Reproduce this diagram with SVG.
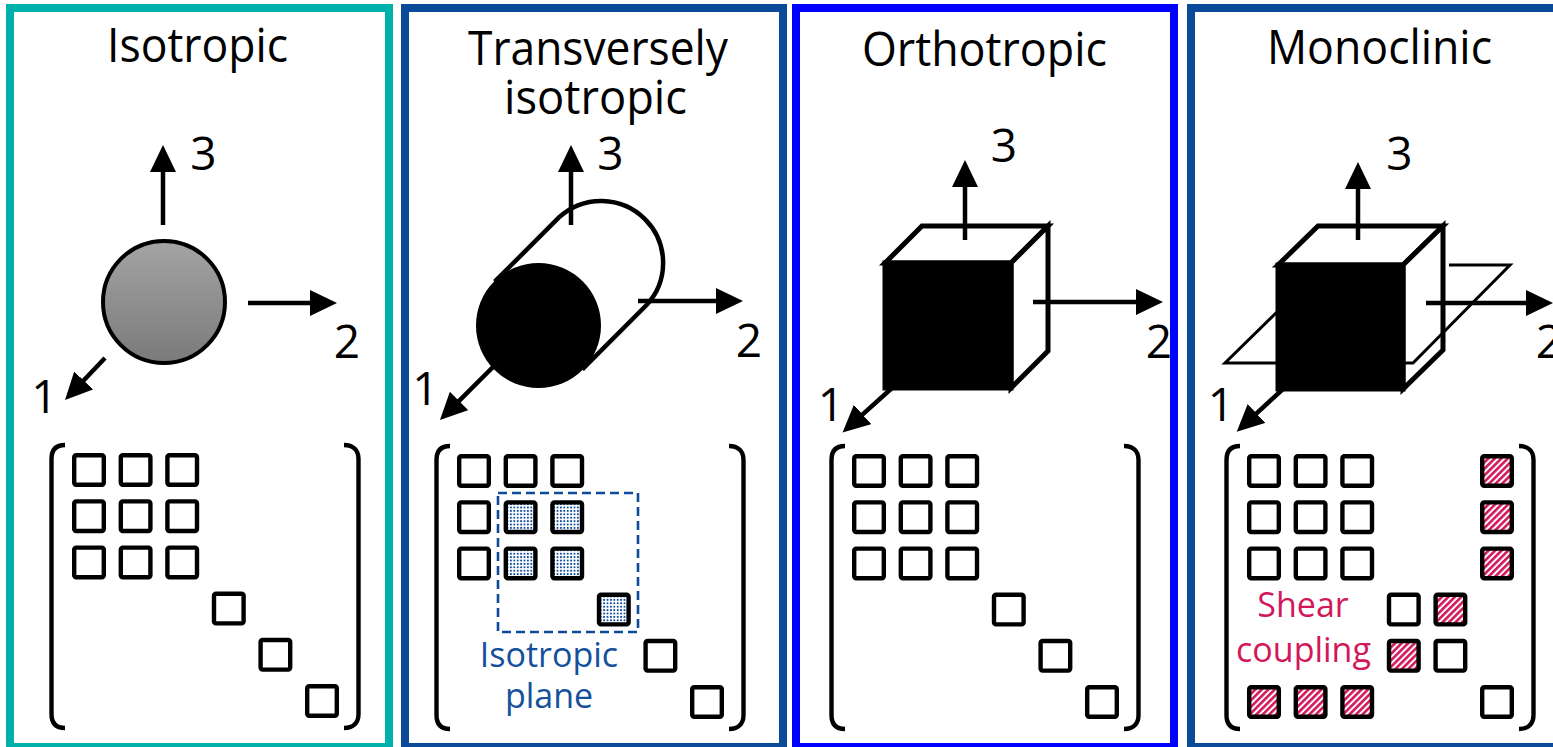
<svg xmlns="http://www.w3.org/2000/svg" xmlns:xlink="http://www.w3.org/1999/xlink" width="1553" height="747" viewBox="0 0 1553 747">
  <style>
    .title { font-family: "Open Sans", "Liberation Sans", sans-serif; font-size: 48px; fill: #000; text-anchor: middle; }
    .axis-label { font-family: "Open Sans", "Liberation Sans", sans-serif; font-size: 46px; fill: #000; text-anchor: middle; }
    .note { font-family: "Open Sans", "Liberation Sans", sans-serif; font-size: 34px; text-anchor: middle; }
    .axis { stroke: #000; stroke-width: 4.5; fill: none; marker-end: url(#head); }
    .edge { stroke: #000; stroke-width: 5; stroke-linejoin: miter; }
    .bracket { fill: none; stroke: #000; stroke-width: 4.4; }
    .cell { fill: #fff; stroke: #000; stroke-width: 4.4; }
    .iso { fill: url(#dots); stroke: #000; stroke-width: 4.4; }
    .shear { fill: url(#hatch); stroke: #000; stroke-width: 4.4; }
    .frame { fill: none; stroke-width: 8; }
  </style>
  <defs>
    <marker id="head" markerUnits="userSpaceOnUse" markerWidth="28" markerHeight="28" refX="7" refY="13" orient="auto">
      <path d="M0,0 L27,13 L0,26 z" fill="#000"/>
    </marker>
    <linearGradient id="sphereFill" x1="0" y1="0" x2="0" y2="1">
      <stop offset="0" stop-color="#a4a4a4"/>
      <stop offset="1" stop-color="#7a7a7a"/>
    </linearGradient>
    <pattern id="dots" patternUnits="userSpaceOnUse" width="3.4" height="3.4">
      <rect width="3.4" height="3.4" fill="#fff"/>
      <rect x="0.8" y="0.8" width="1.8" height="1.8" fill="#0d4a9a"/>
    </pattern>
    <pattern id="hatch" patternUnits="userSpaceOnUse" width="4.6" height="4.6" patternTransform="rotate(45)">
      <rect width="4.6" height="4.6" fill="#fff"/>
      <rect width="2.6" height="4.6" fill="#d2185a"/>
    </pattern>
    <rect id="sq" width="29.6" height="29.6" rx="2"/>
    <g id="brackets" class="bracket">
      <path d="M65,445 C56,445 51.5,450 51.5,459 L51.5,714 C51.5,723 56,728 65,728"/>
      <path d="M344,445 C353,445 358.5,450 358.5,459 L358.5,714 C358.5,723 353,728 344,728"/>
    </g>
  </defs>

  <rect width="1553" height="747" fill="#fff"/>

  <!-- Isotropic -->
  <g id="isotropic">
    <text class="title" x="197.5" y="62" textLength="181" lengthAdjust="spacingAndGlyphs">Isotropic</text>
    <circle cx="164" cy="302" r="61" fill="url(#sphereFill)" stroke="#000" stroke-width="4"/>
    <text class="axis-label" x="203.5" y="170">3</text>
    <text class="axis-label" x="347" y="358">2</text>
    <text class="axis-label" x="44.5" y="413">1</text>
    <g class="matrix" transform="translate(0,0)">
      <use href="#brackets"/>
      <use href="#sq" class="cell" x="74.2" y="455.2"/>
      <use href="#sq" class="cell" x="120.8" y="455.2"/>
      <use href="#sq" class="cell" x="167.4" y="455.2"/>
      <use href="#sq" class="cell" x="74.2" y="501.4"/>
      <use href="#sq" class="cell" x="120.8" y="501.4"/>
      <use href="#sq" class="cell" x="167.4" y="501.4"/>
      <use href="#sq" class="cell" x="74.2" y="547.6"/>
      <use href="#sq" class="cell" x="120.8" y="547.6"/>
      <use href="#sq" class="cell" x="167.4" y="547.6"/>
      <use href="#sq" class="cell" x="214.0" y="593.8"/>
      <use href="#sq" class="cell" x="260.6" y="640.0"/>
      <use href="#sq" class="cell" x="307.2" y="686.2"/>
    </g>
  </g>

  <!-- Transversely isotropic -->
  <g id="transversely-isotropic">
    <text class="title" x="598" y="65" textLength="260" lengthAdjust="spacingAndGlyphs">Transversely</text>
    <text class="title" x="595.5" y="114" textLength="183" lengthAdjust="spacingAndGlyphs">isotropic</text>
    <!-- cylinder: outline of body and back cap, then the solid front face -->
    <path d="M494.7,281.7 L559.2,217.2 A62,62 0 0 1 646.8,304.8 L582.3,369.3" fill="#fff" stroke="#000" stroke-width="4.5"/>
    <circle cx="538.5" cy="325.5" r="62.5" fill="#000"/>
    <text class="axis-label" x="610.5" y="170">3</text>
    <text class="axis-label" x="749" y="357">2</text>
    <text class="axis-label" x="425.5" y="405">1</text>
    <g class="matrix" transform="translate(385,1)">
      <use href="#brackets"/>
      <use href="#sq" class="cell" x="74.2" y="455.2"/>
      <use href="#sq" class="cell" x="120.8" y="455.2"/>
      <use href="#sq" class="cell" x="167.4" y="455.2"/>
      <use href="#sq" class="cell" x="74.2" y="501.4"/>
      <use href="#sq" class="iso" x="120.8" y="501.4"/>
      <use href="#sq" class="iso" x="167.4" y="501.4"/>
      <use href="#sq" class="cell" x="74.2" y="547.6"/>
      <use href="#sq" class="iso" x="120.8" y="547.6"/>
      <use href="#sq" class="iso" x="167.4" y="547.6"/>
      <use href="#sq" class="iso" x="214.0" y="593.8"/>
      <use href="#sq" class="cell" x="260.6" y="640.0"/>
      <use href="#sq" class="cell" x="307.2" y="686.2"/>
    </g>
    <rect x="498" y="493" width="140" height="139" fill="none" stroke="#0d4a9a" stroke-width="2.6" stroke-dasharray="9 5"/>
    <text class="note" x="549" y="667" fill="#14509c">Isotropic</text>
    <text class="note" x="549" y="708" fill="#14509c">plane</text>
  </g>

  <!-- Orthotropic -->
  <g id="orthotropic">
    <text class="title" x="984.5" y="66" textLength="245" lengthAdjust="spacingAndGlyphs">Orthotropic</text>
    <polygon class="edge" points="885,263 922,226 1048,226 1011,263" fill="#fff"/>
    <polygon class="edge" points="1011,263 1048,226 1048,351 1011,388" fill="#fff"/>
    <rect class="edge" x="885" y="263" width="126" height="125" fill="#000"/>
    <text class="axis-label" x="1004" y="162">3</text>
    <text class="axis-label" x="1159" y="358">2</text>
    <text class="axis-label" x="831" y="421">1</text>
    <g class="matrix" transform="translate(780,1)">
      <use href="#brackets"/>
      <use href="#sq" class="cell" x="74.2" y="455.2"/>
      <use href="#sq" class="cell" x="120.8" y="455.2"/>
      <use href="#sq" class="cell" x="167.4" y="455.2"/>
      <use href="#sq" class="cell" x="74.2" y="501.4"/>
      <use href="#sq" class="cell" x="120.8" y="501.4"/>
      <use href="#sq" class="cell" x="167.4" y="501.4"/>
      <use href="#sq" class="cell" x="74.2" y="547.6"/>
      <use href="#sq" class="cell" x="120.8" y="547.6"/>
      <use href="#sq" class="cell" x="167.4" y="547.6"/>
      <use href="#sq" class="cell" x="214.0" y="593.8"/>
      <use href="#sq" class="cell" x="260.6" y="640.0"/>
      <use href="#sq" class="cell" x="307.2" y="686.2"/>
    </g>
  </g>

  <!-- Monoclinic -->
  <g id="monoclinic">
    <text class="title" x="1379.5" y="64" textLength="225" lengthAdjust="spacingAndGlyphs">Monoclinic</text>
    <polygon class="edge" points="1278,265 1318,226 1443,226 1403,265" fill="#fff"/>
    <polygon class="edge" points="1403,265 1443,226 1443,350 1403,389" fill="#fff"/>
    <rect class="edge" x="1278" y="265" width="125" height="124" fill="#000"/>
    <!-- symmetry plane through the cube -->
    <path d="M1278,311 L1225,363 L1278,363 M1403,363 L1413,363 L1510,265 L1449,265" fill="none" stroke="#000" stroke-width="3"/>
    <text class="axis-label" x="1399.5" y="170">3</text>
    <text class="axis-label" x="1549" y="358">2</text>
    <text class="axis-label" x="1221" y="421">1</text>
    <g class="matrix" transform="translate(1175,1)">
      <use href="#brackets"/>
      <use href="#sq" class="cell" x="74.2" y="455.2"/>
      <use href="#sq" class="cell" x="120.8" y="455.2"/>
      <use href="#sq" class="cell" x="167.4" y="455.2"/>
      <use href="#sq" class="shear" x="307.2" y="455.2"/>
      <use href="#sq" class="cell" x="74.2" y="501.4"/>
      <use href="#sq" class="cell" x="120.8" y="501.4"/>
      <use href="#sq" class="cell" x="167.4" y="501.4"/>
      <use href="#sq" class="shear" x="307.2" y="501.4"/>
      <use href="#sq" class="cell" x="74.2" y="547.6"/>
      <use href="#sq" class="cell" x="120.8" y="547.6"/>
      <use href="#sq" class="cell" x="167.4" y="547.6"/>
      <use href="#sq" class="shear" x="307.2" y="547.6"/>
      <use href="#sq" class="cell" x="214.0" y="593.8"/>
      <use href="#sq" class="shear" x="260.6" y="593.8"/>
      <use href="#sq" class="shear" x="214.0" y="640.0"/>
      <use href="#sq" class="cell" x="260.6" y="640.0"/>
      <use href="#sq" class="shear" x="74.2" y="686.2"/>
      <use href="#sq" class="shear" x="120.8" y="686.2"/>
      <use href="#sq" class="shear" x="167.4" y="686.2"/>
      <use href="#sq" class="cell" x="307.2" y="686.2"/>
    </g>
    <text class="note" x="1303" y="617" fill="#d2185a">Shear</text>
    <text class="note" x="1303.5" y="662" fill="#d2185a">coupling</text>
  </g>

  <!-- material axes 1, 2, 3 -->
  <g id="connectors">
    <line class="axis" x1="163" y1="225" x2="163" y2="165"/>
    <line class="axis" x1="248" y1="303" x2="317" y2="303"/>
    <line class="axis" x1="105" y1="358" x2="78.8" y2="385.5"/>

    <line class="axis" x1="571" y1="225" x2="571" y2="165"/>
    <line class="axis" x1="638" y1="301" x2="723" y2="301"/>
    <line class="axis" x1="500" y1="360" x2="454.1" y2="405.9"/>

    <line class="axis" x1="965" y1="240" x2="965" y2="180"/>
    <line class="axis" x1="1033" y1="302" x2="1143" y2="302"/>
    <line class="axis" x1="892" y1="388" x2="857.4" y2="419.2"/>

    <line class="axis" x1="1358" y1="240" x2="1358" y2="182"/>
    <line class="axis" x1="1426" y1="303" x2="1533" y2="303"/>
    <line class="axis" x1="1283" y1="389" x2="1251.4" y2="418.2"/>
  </g>

  <!-- panel frames -->
  <g id="frames">
    <rect class="frame" x="10" y="8" width="379" height="739" stroke="#00b0aa"/>
    <rect class="frame" x="405" y="8" width="378" height="739" stroke="#0a4a98"/>
    <rect class="frame" x="796" y="8" width="378" height="739" stroke="#0000ff"/>
    <rect class="frame" x="1191" y="8" width="378" height="739" stroke="#0a4a98"/>
  </g>
</svg>
